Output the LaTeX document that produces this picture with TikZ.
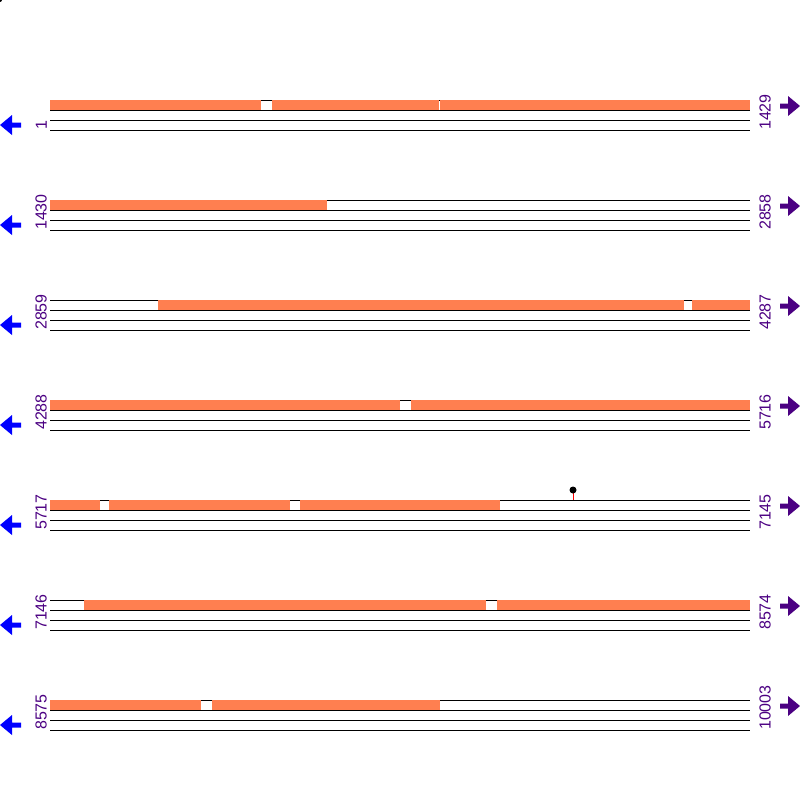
\documentclass[tikz,border=0pt]{standalone}
\usepackage{fontspec}
\setmainfont{Liberation Sans}
\definecolor{coral}{RGB}{255,127,80}
\definecolor{indigo}{RGB}{75,0,130}
\begin{document}
\begin{tikzpicture}[x=1pt,y=-1pt,
  strand/.style={draw=black,line width=1pt},
  feat/.style={fill=coral,draw=none},
  poslabel/.style={rotate=90,anchor=south west,inner sep=0pt,text=indigo,font=\fontsize{16}{16}\selectfont},
  fwdarrow/.style={fill=indigo,draw=none},
  revarrow/.style={fill=blue,draw=none}]
\useasboundingbox (0,0) rectangle (800,800);
\fill[black] (0,0) circle (2);
% rows
\foreach \k/\l/\r in {0/1/1429,1/1430/2858,2/2859/4287,3/4288/5716,4/5717/7145,5/7146/8574,6/8575/10003}{
  \pgfmathsetmacro{\yb}{100+100*\k}
  \foreach \d in {0.5,10.5,20.5,30.5}{
    \draw[strand] (50,\yb+\d) -- (750,\yb+\d);
  }
  \node[poslabel] (L\k) at (47,\yb+30) {\l};
  \node[poslabel] (R\k) at (771,\yb+30) {\r};
  \fill[revarrow] (0,\yb+25) -- (12,\yb+15) -- (12,\yb+22.5) -- (21,\yb+22.5) -- (21,\yb+27.5) -- (12,\yb+27.5) -- (12,\yb+35) -- cycle;
  \fill[fwdarrow] (800,\yb+6) -- (788,\yb-4) -- (788,\yb+3.5) -- (780,\yb+3.5) -- (780,\yb+8.5) -- (788,\yb+8.5) -- (788,\yb+16) -- cycle;
}
% features
\foreach \y/\a/\b in {
  100/50/261, 100/272/439, 100/440/750,
  200/50/327,
  300/158/684, 300/692/750,
  400/50/400, 400/411/750,
  500/50/100, 500/109/290, 500/300/500,
  600/84/486, 600/497/750,
  700/50/201, 700/212/440}{
  \fill[feat] (\a,\y) rectangle (\b,\y+10);
}
% lollipop
\draw[red,line width=1pt] (573,493) -- (573,500);
\fill[black] (573,490) circle (3.5);
\end{tikzpicture}
\end{document}
